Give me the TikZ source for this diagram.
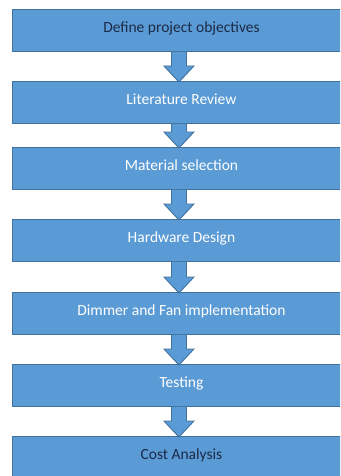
\documentclass[tikz,border=0pt]{standalone}
\usepackage{fontspec}
\setmainfont{Carlito}
\usetikzlibrary{calc}
\definecolor{boxblue}{HTML}{5B9BD5}
\definecolor{boxedge}{HTML}{41719C}
\definecolor{darktext}{HTML}{1B2A47}
\begin{document}
\begin{tikzpicture}[x=1pt,y=1pt,
  stepbox/.style={draw=boxedge, line width=0.9pt, fill=boxblue, anchor=north west,
    minimum width=338pt, minimum height=42pt, inner sep=0pt,
    text height=12pt, text depth=8pt, font=\fontsize{15.5}{18}\selectfont},
  lighttext/.style={text=white},
  darkbox/.style={text=darktext},
  flowarrow/.style={draw=boxedge, line width=0.9pt, fill=boxblue, line join=miter}]
  \useasboundingbox (0,0) rectangle (340,-476);
  \begin{scope}
    \clip (0,0) rectangle (340,-476);
    \node[stepbox, darkbox]  (s1) at (12,-9)   {Define project objectives};
    \node[stepbox, lighttext] (s2) at (12,-81)  {Literature Review};
    \node[stepbox, lighttext] (s3) at (12,-147) {Material selection};
    \node[stepbox, lighttext] (s4) at (12,-219) {Hardware Design};
    \node[stepbox, lighttext] (s5) at (12,-292) {Dimmer and Fan implementation};
    \node[stepbox, lighttext] (s6) at (12,-364) {Testing};
    \node[stepbox, darkbox]  (s7) at (12,-436) {Cost Analysis};
    % block arrows between consecutive steps, a little left of the box centre
    \foreach \a/\b in {s1/s2,s2/s3,s3/s4,s4/s5,s5/s6,s6/s7}{
      \filldraw[flowarrow]
        ($(\a.south)+(-10,0)$) -- ($(\b.north)+(-10,15)$) -- ($(\b.north)+(-17.5,15)$)
        -- ($(\b.north)+(-2.5,-1)$) -- ($(\b.north)+(12.5,15)$) -- ($(\b.north)+(5,15)$)
        -- ($(\a.south)+(5,0)$);
    }
  \end{scope}
\end{tikzpicture}
\end{document}
